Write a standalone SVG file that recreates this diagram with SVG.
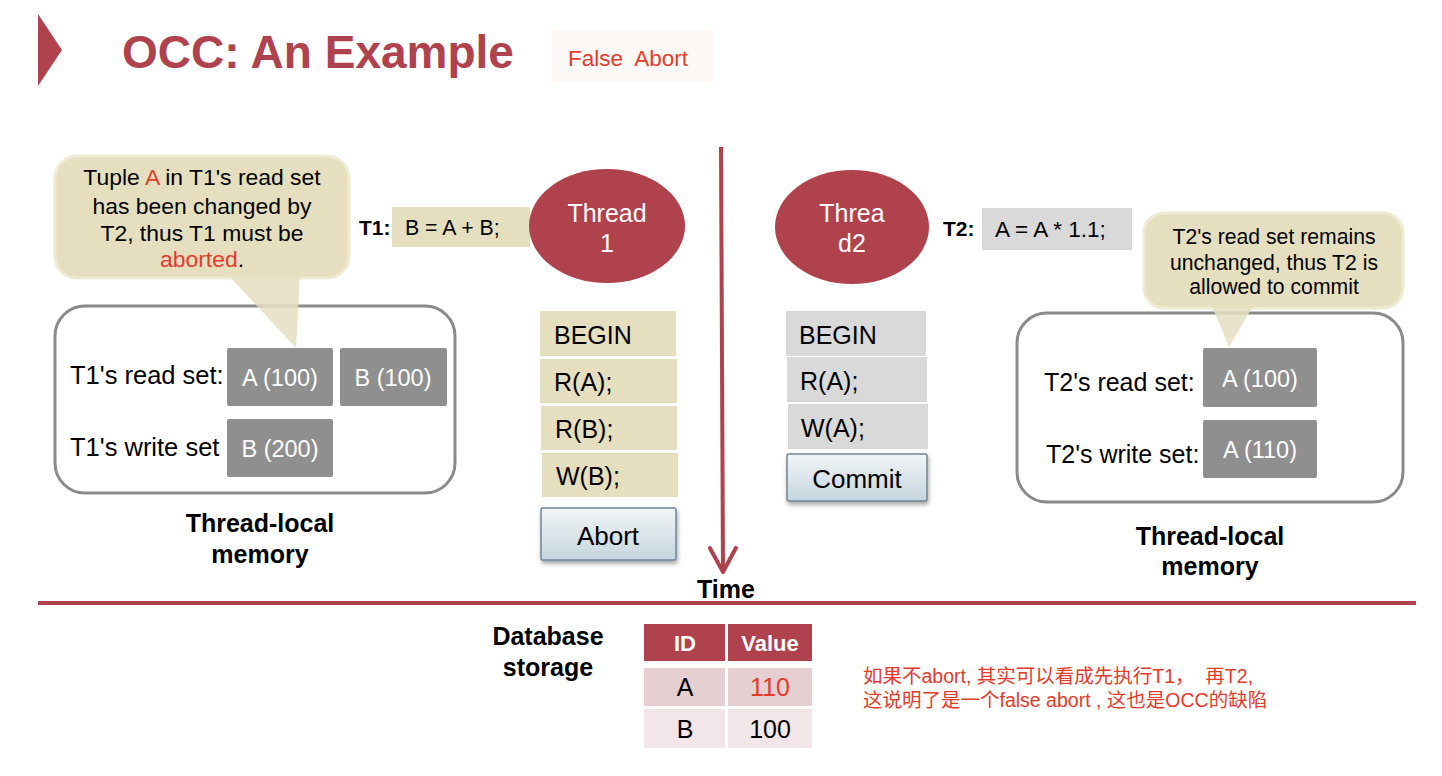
<svg xmlns="http://www.w3.org/2000/svg" width="1442" height="776" viewBox="0 0 1442 776">
  <defs>
    <linearGradient id="btnGrad" x1="0" y1="0" x2="0" y2="1">
      <stop offset="0" stop-color="#f1f5f7"/>
      <stop offset="1" stop-color="#c6d5de"/>
    </linearGradient>
    <filter id="btnShadow" x="-10%" y="-20%" width="130%" height="160%">
      <feDropShadow dx="1" dy="3" stdDeviation="2" flood-color="#000" flood-opacity="0.35"/>
    </filter>
    <marker id="openArrow" viewBox="0 0 30 30" refX="27" refY="15" markerWidth="30" markerHeight="30" markerUnits="userSpaceOnUse" orient="auto">
      <path d="M3 2 L27 15 L3 28" fill="none" stroke="#b0424e" stroke-width="4" stroke-linecap="round" stroke-linejoin="round"/>
    </marker>
    <style>
      text { font-family: "Liberation Sans", Arial, sans-serif; }
      .title { font-size: 46px; font-weight: bold; fill: #b0424e; }
      .red { fill: #e53b2b; }
      .tan { fill: #e5dfbf; }
      .grey { fill: #d9d9d9; }
      .cell { fill: #8f8f8f; }
      .cellTxt { font-size: 23.5px; fill: #ffffff; text-anchor: middle; }
      .lbl { fill: #000; }
      .note1 { font-size: 22.9px; text-anchor: middle; }
      .note2 { font-size: 21.2px; text-anchor: middle; }
      .tag { font-size: 21px; font-weight: bold; }
      .setLbl { font-size: 25.5px; fill: #000; }
      .memBox { fill: #ffffff; stroke: #8a8a8a; stroke-width: 3; }
      .callout { fill: #e5dfbf; stroke: #efead3; stroke-width: 3; }
      .tail { fill: #e5dfbf; fill-opacity: 0.85; }
      .ell { fill: #b0424e; }
      .ellTxt { font-size: 25px; fill: #ffffff; text-anchor: middle; }
      .op { font-size: 25px; fill: #000; }
      .btn { fill: url(#btnGrad); stroke: #6f8596; stroke-width: 1.5; filter: url(#btnShadow); }
      .btnTxt { font-size: 26px; fill: #000; text-anchor: middle; }
      .axis { stroke: #b0424e; stroke-width: 4; fill: none; }
      .cap { font-size: 25px; font-weight: bold; fill: #000; text-anchor: middle; }
      .tblHead { fill: #b0424e; }
      .tblHeadTxt { font-size: 22px; font-weight: bold; fill: #fff; text-anchor: middle; }
      .tblTxt { font-size: 25px; fill: #000; text-anchor: middle; }
      .cjk { font-family: "Liberation Sans", "Noto Sans CJK SC", sans-serif; font-size: 19.5px; fill: #e53b2b; }
    </style>
  </defs>

  <!-- heading -->
  <g id="heading">
    <polygon points="38,14 62,50 38,86" fill="#b0424e"/>
    <text class="title" x="122" y="68">OCC: An Example</text>
    <rect x="551" y="30" width="163" height="52" fill="#fcf9f7"/>
    <text class="red" x="568" y="66" style="font-size:22.5px" xml:space="preserve">False  Abort</text>
  </g>

  <!-- connectors: time axis and storage divider -->
  <g id="connectors">
    <line class="axis" x1="721" y1="147" x2="723" y2="572" marker-end="url(#openArrow)"/>
    <line x1="38" y1="603" x2="1416" y2="603" stroke="#b0424e" stroke-width="4"/>
  </g>

  <!-- T1 thread-local memory -->
  <g id="t1-memory">
    <rect class="memBox" x="55" y="306" width="400" height="187" rx="30"/>
    <text class="setLbl" x="70" y="384">T1's read set:</text>
    <text class="setLbl" x="70" y="456">T1's write set</text>
    <rect class="cell" x="227" y="348" width="106" height="58" rx="2"/>
    <rect class="cell" x="340" y="348" width="107" height="58" rx="2"/>
    <rect class="cell" x="227" y="419" width="106" height="58" rx="2"/>
    <text class="cellTxt" x="280" y="386">A (100)</text>
    <text class="cellTxt" x="393" y="386">B (100)</text>
    <text class="cellTxt" x="280" y="457">B (200)</text>
    <text class="cap" x="260" y="532">Thread-local</text>
    <text class="cap" x="260" y="563">memory</text>
  </g>

  <!-- T1 callout -->
  <g id="t1-callout">
    <rect class="callout" x="55" y="156" width="294" height="122" rx="22"/>
    <polygon class="tail" points="229,276 300,276 296,348"/>
    <text class="lbl note1" x="202" y="185">Tuple <tspan class="red">A</tspan> in T1's read set</text>
    <text class="lbl note1" x="202" y="214">has been changed by</text>
    <text class="lbl note1" x="202" y="241">T2, thus T1 must be</text>
    <text class="lbl note1" x="202" y="267"><tspan class="red">aborted</tspan>.</text>
  </g>

  <!-- T1 statement -->
  <g id="t1-stmt">
    <text class="lbl tag" x="359" y="235">T1:</text>
    <rect class="tan" x="392" y="207" width="138" height="40"/>
    <text class="lbl" style="font-size:21.3px" x="405" y="235">B = A + B;</text>
  </g>

  <!-- Thread 1 -->
  <g id="thread1">
    <ellipse class="ell" cx="607" cy="226" rx="78" ry="57"/>
    <text class="ellTxt" x="607" y="222">Thread</text>
    <text class="ellTxt" x="607" y="252">1</text>
  </g>

  <!-- T1 operations -->
  <g id="t1-ops">
    <rect class="tan" x="540" y="311" width="136" height="45"/>
    <rect class="tan" x="540" y="359" width="137" height="44"/>
    <rect class="tan" x="541" y="406" width="136" height="44"/>
    <rect class="tan" x="542" y="453" width="136" height="44"/>
    <text class="op" x="554" y="344">BEGIN</text>
    <text class="op" x="554" y="391">R(A);</text>
    <text class="op" x="555" y="438">R(B);</text>
    <text class="op" x="556" y="485">W(B);</text>
  </g>
  <g id="t1-abort">
    <rect class="btn" x="541" y="508" width="135" height="52" rx="2"/>
    <text class="btnTxt" x="608" y="545">Abort</text>
  </g>

  <!-- Thread 2 -->
  <g id="thread2">
    <ellipse class="ell" cx="852" cy="227" rx="77" ry="57"/>
    <text class="ellTxt" x="852" y="222">Threa</text>
    <text class="ellTxt" x="852" y="252">d2</text>
  </g>

  <!-- T2 operations -->
  <g id="t2-ops">
    <rect class="grey" x="786" y="311" width="140" height="45"/>
    <rect class="grey" x="787" y="357" width="140" height="45"/>
    <rect class="grey" x="788" y="404" width="140" height="45"/>
    <text class="op" x="799" y="344">BEGIN</text>
    <text class="op" x="800" y="390">R(A);</text>
    <text class="op" x="801" y="437">W(A);</text>
  </g>
  <g id="t2-commit">
    <rect class="btn" x="787" y="454" width="140" height="47" rx="2"/>
    <text class="btnTxt" x="857" y="488">Commit</text>
  </g>

  <!-- T2 statement -->
  <g id="t2-stmt">
    <text class="lbl tag" x="943" y="236">T2:</text>
    <rect class="grey" x="982" y="208" width="150" height="42"/>
    <text class="lbl" style="font-size:22.5px" x="995" y="237">A = A * 1.1;</text>
  </g>

  <!-- T2 thread-local memory -->
  <g id="t2-memory">
    <rect class="memBox" x="1017" y="313" width="386" height="189" rx="30"/>
    <rect class="cell" x="1203" y="348" width="114" height="59" rx="2"/>
    <rect class="cell" x="1203" y="420" width="114" height="58" rx="2"/>
    <text class="setLbl" style="font-size:25px" x="1044" y="391">T2's read set:</text>
    <text class="setLbl" style="font-size:25px" x="1046" y="463">T2's write set:</text>
    <text class="cellTxt" x="1260" y="387">A (100)</text>
    <text class="cellTxt" x="1260" y="458">A (110)</text>
    <text class="cap" x="1210" y="545">Thread-local</text>
    <text class="cap" x="1210" y="575">memory</text>
  </g>

  <!-- T2 callout -->
  <g id="t2-callout">
    <rect class="callout" x="1144" y="213" width="259" height="95" rx="20"/>
    <polygon class="tail" points="1212,306 1253,306 1229,347"/>
    <text class="lbl note2" x="1274" y="244">T2's read set remains</text>
    <text class="lbl note2" x="1274" y="270">unchanged, thus T2 is</text>
    <text class="lbl note2" x="1274" y="294">allowed to commit</text>
  </g>

  <!-- time label -->
  <g id="time-label">
    <text class="cap" x="726" y="598">Time</text>
  </g>

  <!-- database storage -->
  <g id="db-storage">
    <text class="cap" x="548" y="645">Database</text>
    <text class="cap" x="548" y="676">storage</text>
    <rect class="tblHead" x="644" y="624" width="81" height="37"/>
    <rect class="tblHead" x="728" y="624" width="84" height="37"/>
    <rect x="644" y="668" width="81" height="38" fill="#e5cfd1"/>
    <rect x="728" y="668" width="84" height="38" fill="#e5cfd1"/>
    <rect x="644" y="709" width="81" height="39" fill="#f2e6e8"/>
    <rect x="728" y="709" width="84" height="39" fill="#f2e6e8"/>
    <text class="tblHeadTxt" x="685" y="651">ID</text>
    <text class="tblHeadTxt" x="770" y="651">Value</text>
    <text class="tblTxt" x="685" y="696">A</text>
    <text class="tblTxt" x="770" y="696" style="fill:#e53b2b">110</text>
    <text class="tblTxt" x="685" y="738">B</text>
    <text class="tblTxt" x="770" y="738">100</text>
  </g>

  <!-- note -->
  <g id="note">
    <text class="cjk" x="863" y="683" xml:space="preserve">如果不abort, 其实可以看成先执行T1，  再T2,</text>
    <text class="cjk" x="863" y="707">这说明了是一个false abort , 这也是OCC的缺陷</text>
  </g>
</svg>
